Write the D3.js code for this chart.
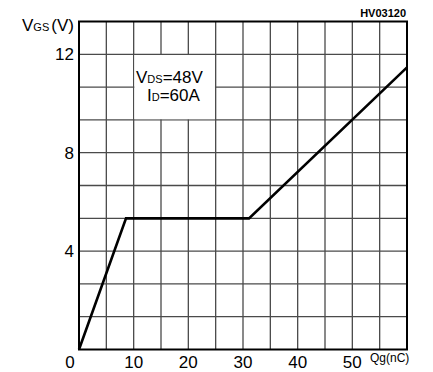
<!DOCTYPE html>
<html lang="en">
<head>
<meta charset="utf-8" />
<title>Gate charge</title>
<script src="https://cdn.jsdelivr.net/npm/d3@7"></script>
<style>
  body { margin: 0; background: #fff; }
  text { font-family: "Liberation Sans", Arial, sans-serif; fill: #000; }
</style>
</head>
<body>
<svg id="canvas" width="433" height="372"></svg>
<script>
// data
var qg = [0, 8.6, 31.1, 60];          // nC
var vgs = [0, 5.33, 5.33, 11.47];     // V
var xTicks = [0, 10, 20, 30, 40, 50];
var yTicks = [4, 8, 12];

var svg = d3.select("#canvas");
var mLeft = 79, mTop = 21.5, w = 328, h = 328;

var x = d3.scaleLinear().domain([0, 60]).range([mLeft, mLeft + w]);
var y = d3.scaleLinear().domain([0, 40 / 3]).range([mTop + h, mTop]);

// grid
var grid = svg.append("g").attr("stroke", "#4a4a4a").attr("stroke-width", 1.3);
grid.selectAll(".gx").data(d3.range(5, 60, 5)).enter().append("line")
    .attr("x1", function (d) { return x(d); }).attr("x2", function (d) { return x(d); })
    .attr("y1", y(0)).attr("y2", y(40 / 3));
grid.selectAll(".gy").data(d3.range(1, 10)).enter().append("line")
    .attr("y1", function (d) { return y(d * 4 / 3); }).attr("y2", function (d) { return y(d * 4 / 3); })
    .attr("x1", x(0)).attr("x2", x(60));

// white box behind the conditions
svg.append("rect")
    .attr("x", x(10) + 0.7).attr("y", y(12) + 0.7)
    .attr("width", x(25) - x(10) - 1.4).attr("height", y(28 / 3) - y(12) - 1.4)
    .attr("fill", "#fff");

// frame
svg.append("rect")
    .attr("x", x(0)).attr("y", y(40 / 3))
    .attr("width", w).attr("height", h)
    .attr("fill", "none").attr("stroke", "#000").attr("stroke-width", 2);

// curve
var line = d3.line().x(function (d, i) { return x(qg[i]); }).y(function (d) { return y(d); });
svg.append("path").datum(vgs)
    .attr("d", line)
    .attr("fill", "none").attr("stroke", "#000").attr("stroke-width", 2.6);

// tick labels
svg.selectAll(".xl").data(xTicks).enter().append("text")
    .attr("x", function (d) { return d === 0 ? x(d) - 9 : x(d); })
    .attr("y", 368)
    .attr("text-anchor", "middle").attr("font-size", 17)
    .text(function (d) { return d; });
svg.selectAll(".yl").data(yTicks).enter().append("text")
    .attr("x", 74).attr("y", function (d) { return y(d) + 6; })
    .attr("text-anchor", "end").attr("font-size", 17)
    .text(function (d) { return d; });

// axis titles
var t = svg.append("text").attr("x", 22).attr("y", 31).attr("font-size", 17);
t.append("tspan").text("V");
t.append("tspan").attr("font-size", 11).text("GS");
t.append("tspan").attr("dx", 2).text("(V)");

svg.append("text").attr("x", 370).attr("y", 362).attr("font-size", 12).text("Qg(nC)");

svg.append("text").attr("x", 406).attr("y", 17).attr("text-anchor", "end")
    .attr("font-size", 11).attr("font-weight", "bold").text("HV03120");

// test conditions
var c1 = svg.append("text").attr("x", 136).attr("y", 83).attr("font-size", 17);
c1.append("tspan").text("V");
c1.append("tspan").attr("font-size", 11).text("DS");
c1.append("tspan").text("=48V");
var c2 = svg.append("text").attr("x", 147).attr("y", 101).attr("font-size", 17);
c2.append("tspan").text("I");
c2.append("tspan").attr("font-size", 11).text("D");
c2.append("tspan").text("=60A");
</script>
</body>
</html>
